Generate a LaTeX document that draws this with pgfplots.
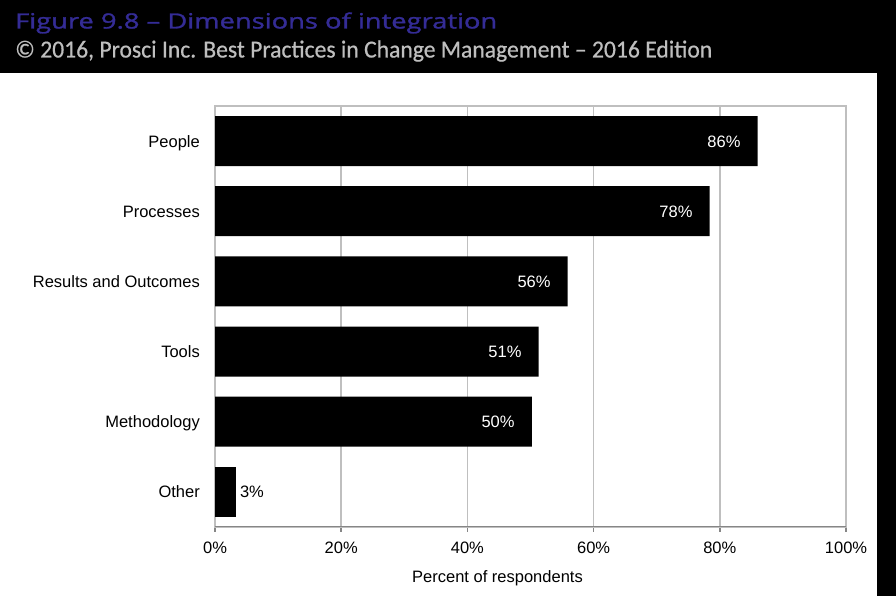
\documentclass[border=0pt]{standalone}
\usepackage{pgfplots}
\pgfplotsset{compat=1.18}
\usepackage{fontspec}
\usepackage{graphicx}
\setmainfont{Liberation Sans}
\newfontfamily\titlefont[FakeBold=1.2]{Open Sans}
\newfontfamily\subfont[FakeBold=0.6]{Carlito}
\definecolor{titleblue}{RGB}{52,44,150}
\definecolor{subgray}{RGB}{190,190,190}
\definecolor{gridgray}{RGB}{191,191,191}
\definecolor{axisgray}{RGB}{134,134,134}
\begin{document}
\begin{tikzpicture}
\useasboundingbox (0,0) rectangle (896pt,596pt);
\fill[black] (0,0) rectangle (896pt,596pt);
\fill[white] (0,0) rectangle (877pt,523pt);
\node[anchor=base west, inner sep=0pt, text=titleblue] at (15pt,567.5pt)
  {\resizebox{482pt}{\height}{\titlefont\fontsize{21}{24}\selectfont Figure 9.8 – Dimensions of integration}};
\node[anchor=base west, inner sep=0pt, text=subgray] at (15pt,538.5pt)
  {\resizebox{697pt}{\height}{\subfont\fontsize{24.5}{27}\selectfont \textcopyright{} 2016, Prosci Inc. Best Practices in Change Management – 2016 Edition}};
\begin{axis}[
  at={(215pt,69pt)}, anchor=south west,
  scale only axis, width=631pt, height=421pt,
  xbar, bar width=50pt, bar shift=0pt,
  xmin=0, xmax=100, ymin=-0.5, ymax=5.5,
  xtick={0,20,40,60,80,100},
  xticklabels={0\%,20\%,40\%,60\%,80\%,100\%},
  ytick={0,1,2,3,4,5},
  yticklabels={Other,Methodology,Tools,Results and Outcomes,Processes,People},
  font=\fontsize{16.5}{18}\selectfont,
  /pgf/number format/assume math mode=true,
  axis line style={gridgray, line width=1.5pt},
  xmajorgrids, grid style={gridgray, line width=1.5pt},
  major x tick style={axisgray, line width=1.5pt},
  major tick length=5pt, tick align=outside,
  xtick pos=bottom, ytick style={draw=none},
  yticklabel style={inner sep=0pt, anchor=base east, xshift=-10pt, yshift=-6pt},
  xticklabel style={inner sep=0pt, anchor=north, yshift=-10pt},
  xlabel={Percent of respondents},
  xlabel style={at={(axis description cs:0.4477,0)}, anchor=center, yshift=-51pt, inner sep=0pt},
  point meta=x,
  nodes near coords={\pgfmathprintnumber[fixed,precision=0]{\pgfplotspointmeta}\%},
]
\addplot[fill=black, draw=none,
  every node near coord/.append style={text=white, anchor=base east, xshift=-17pt, yshift=-6pt, inner sep=0pt, font=\fontsize{16.5}{18}\selectfont}]
  coordinates {(86,5) (78.4,4) (55.9,3) (51.3,2) (50.2,1)};
\addplot[fill=black, draw=none,
  every node near coord/.append style={text=black, anchor=base west, xshift=4pt, yshift=-6pt, inner sep=0pt, font=\fontsize{16.5}{18}\selectfont}]
  coordinates {(3.3,0)};
\draw[axisgray, line width=1.5pt] (rel axis cs:0,0) -- (rel axis cs:1,0);
\end{axis}
\end{tikzpicture}
\end{document}
